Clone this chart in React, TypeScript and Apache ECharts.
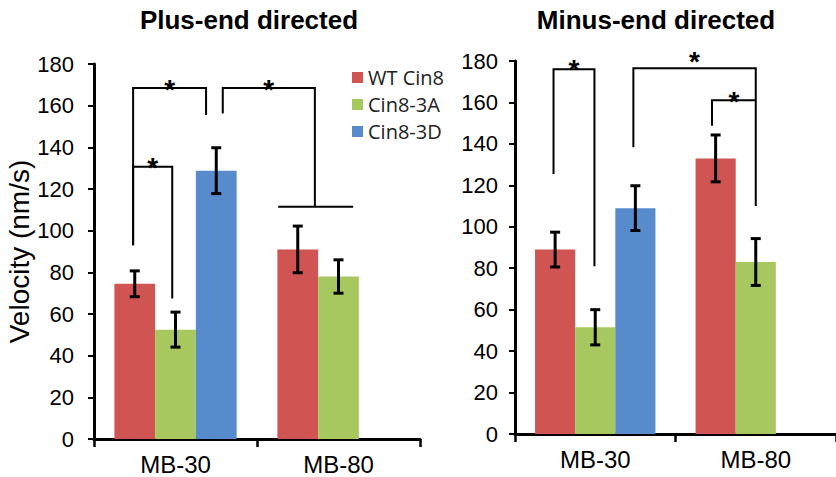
import React, { useEffect, useRef } from 'react';
import * as echarts from 'echarts';

// ---------- data ----------
const categories = ['MB-30', 'MB-80'];
const seriesNames = ['WT Cin8', 'Cin8-3A', 'Cin8-3D'];
const titles = ['Plus-end directed', 'Minus-end directed'];
const yAxisTitle = 'Velocity (nm/s)';

const plusWT = [74.5, 91];
const plusWTErr = [6.2, 11.2];
const plus3A = [52.5, 78];
const plus3AErr = [8.4, 8];
const plus3D = [128.8, null];
const plus3DErr = [11, null];

const minusWT = [89, 133];
const minusWTErr = [8.4, 11.3];
const minus3A = [51.5, 83];
const minus3AErr = [8.5, 11.3];
const minus3D = [109, null];
const minus3DErr = [10.8, null];

// significance brackets: [cat1, slot1, cat2, slot2, yTop, yLeftEnd, yRightEnd, starLiftPx]
const plusBrackets = [
  [0, -1.04, 0, 0.75, 168.5, 93, 155.5, 5],
  [0, 1.16, 1, -0.58, 168.5, 156.3, 111.5, 5],
  [0, -1.04, 0, -0.08, 130.7, 93, 67.5, 5],
];
// group lines: [cat, slotFrom, slotTo, y]
const plusGroupLines = [[1, -1.48, 0.36, 111.5]];
const minusBrackets = [
  [0, -1.04, 0, -0.02, 176, 125.5, 81, 6],
  [0, 0.95, 1, 0, 176.5, 138.4, 110, 12.5],
  [1, -1.09, 1, 0, 161, 148.8, null, 5],
];
const minusGroupLines: number[][] = [];

// ---------- styles ----------
const colors = ['#CF5452', '#A6C85E', '#578BCB'];
const FONT = 'Liberation Sans, Arial, sans-serif';
const CAT_GAP = 0.25;
const STAR_FS = 28;

function barWidthOf(api: any) {
  const band = api.size([1, 0])[0];
  return (band * (1 - CAT_GAP)) / 3;
}

function errorData(means: (number | null)[][], errs: (number | null)[][]) {
  const out: number[][] = [];
  means.forEach((arr, s) => {
    arr.forEach((m, c) => {
      const e = errs[s][c];
      if (m != null && e != null) out.push([c, m, e, s - 1]);
    });
  });
  return out;
}

function errRender(params: any, api: any) {
  const cat = api.value(0);
  const mean = api.value(1);
  const err = api.value(2);
  const slot = api.value(3);
  const c = api.coord([cat, mean]);
  const x = c[0] + slot * barWidthOf(api);
  const top = api.coord([cat, mean + err])[1];
  const bot = api.coord([cat, mean - err])[1];
  const cap = 5;
  const st = { stroke: '#000', lineWidth: 3 };
  return {
    type: 'group',
    children: [
      { type: 'line', shape: { x1: x, y1: top, x2: x, y2: bot }, style: st },
      { type: 'line', shape: { x1: x - cap, y1: top, x2: x + cap, y2: top }, style: st },
      { type: 'line', shape: { x1: x - cap, y1: bot, x2: x + cap, y2: bot }, style: st },
    ],
  };
}

function makeBracketRender(brackets: any[][], groupLines: any[][]) {
  return (params: any, api: any) => {
    const bw = barWidthOf(api);
    const st = { stroke: '#000', lineWidth: 2, fill: null };
    const idx = params.dataIndex;
    if (idx < brackets.length) {
      const [c1, s1, c2, s2, yTop, yL, yR, lift] = brackets[idx];
      const x1 = api.coord([c1, 0])[0] + s1 * bw;
      const x2 = api.coord([c2, 0])[0] + s2 * bw;
      const yT = api.coord([c1, yTop])[1];
      const pts: number[][] = [];
      if (yL != null) pts.push([x1, api.coord([c1, yL])[1]]);
      pts.push([x1, yT], [x2, yT]);
      if (yR != null) pts.push([x2, api.coord([c2, yR])[1]]);
      return {
        type: 'group',
        children: [
          { type: 'polyline', shape: { points: pts }, style: st },
          {
            type: 'text',
            x: (x1 + x2) / 2,
            y: yT - lift + 0.22 * STAR_FS,
            style: {
              text: '*',
              font: `bold ${STAR_FS}px ${FONT}`,
              fill: '#000',
              textAlign: 'center',
              textVerticalAlign: 'middle',
            },
          },
        ],
      };
    }
    const g = groupLines[idx - brackets.length];
    const [c, sf, stt, y] = g;
    const cx = api.coord([c, y]);
    return {
      type: 'line',
      shape: { x1: cx[0] + sf * bw, y1: cx[1], x2: cx[0] + stt * bw, y2: cx[1] },
      style: st,
    };
  };
}

function barSeries(grid: number, values: (number | null)[][]) {
  return values.map((v, i) => ({
    type: 'bar',
    name: seriesNames[i],
    xAxisIndex: grid,
    yAxisIndex: grid,
    data: v.map((x) => (x == null ? '-' : x)),
    barGap: '0%',
    barCategoryGap: `${CAT_GAP * 100}%`,
    itemStyle: { color: colors[i] },
    emphasis: { disabled: true },
  }));
}

const grids = [
  { left: 94, top: 64, width: 326, height: 375 },
  { left: 515, top: 61, width: 330, height: 373 },
];

export default function App() {
  const ref = useRef<HTMLDivElement>(null);
  useEffect(() => {
    document.body.style.margin = '0';
    const chart = echarts.init(ref.current!, undefined, { renderer: 'svg' });

    const xAxes = grids.map((_, i) => ({
      type: 'category',
      gridIndex: i,
      data: categories,
      axisLine: { lineStyle: { color: '#000', width: 3 } },
      axisTick: { show: true, length: 8, lineStyle: { color: '#000', width: 2.5 } },
      axisLabel: { color: '#000', fontSize: 24, fontFamily: FONT, margin: 13 },
    }));
    const yAxes = grids.map((_, i) => ({
      type: 'value',
      gridIndex: i,
      min: 0,
      max: 180,
      interval: 20,
      name: i === 0 ? yAxisTitle : '',
      nameLocation: 'middle',
      nameGap: 55,
      nameTextStyle: { color: '#000', fontSize: 28, fontFamily: FONT },
      axisLine: { show: true, lineStyle: { color: '#000', width: 3 } },
      axisTick: { show: true, length: 6, lineStyle: { color: '#000', width: 2 } },
      axisLabel: { color: '#000', fontSize: 22, fontFamily: FONT, margin: i === 0 ? 20 : 17 },
      splitLine: { show: false },
    }));

    const option: any = {
      animation: false,
      grid: grids,
      xAxis: xAxes,
      yAxis: yAxes,
      legend: {
        data: seriesNames,
        orient: 'vertical',
        left: 347,
        top: 61,
        icon: 'rect',
        itemWidth: 11,
        itemHeight: 11,
        itemGap: 4,
        textStyle: { fontSize: 20, fontFamily: 'Open Sans', color: '#222', lineHeight: 23 },
        selectedMode: false,
      },
      graphic: titles.map((t, i) => ({
        type: 'text',
        x: i === 0 ? 249 : 656,
        y: 20,
        style: {
          text: t,
          font: `bold 26px ${FONT}`,
          fill: '#000',
          textAlign: 'center',
          textVerticalAlign: 'middle',
        },
      })),
      series: [
        ...barSeries(0, [plusWT, plus3A, plus3D]),
        ...barSeries(1, [minusWT, minus3A, minus3D]),
        {
          type: 'custom',
          name: 'err-plus',
          xAxisIndex: 0,
          yAxisIndex: 0,
          z: 10,
          clip: false,
          encode: { x: 0, y: 1 },
          data: errorData([plusWT, plus3A, plus3D], [plusWTErr, plus3AErr, plus3DErr]),
          renderItem: errRender,
        },
        {
          type: 'custom',
          name: 'err-minus',
          xAxisIndex: 1,
          yAxisIndex: 1,
          z: 10,
          clip: false,
          encode: { x: 0, y: 1 },
          data: errorData([minusWT, minus3A, minus3D], [minusWTErr, minus3AErr, minus3DErr]),
          renderItem: errRender,
        },
        {
          type: 'custom',
          name: 'sig-plus',
          xAxisIndex: 0,
          yAxisIndex: 0,
          z: 10,
          clip: false,
          encode: { x: 0, y: 1 },
          data: [...plusBrackets, ...plusGroupLines].map(() => [0, 0]),
          renderItem: makeBracketRender(plusBrackets, plusGroupLines),
        },
        {
          type: 'custom',
          name: 'sig-minus',
          xAxisIndex: 1,
          yAxisIndex: 1,
          z: 10,
          clip: false,
          encode: { x: 0, y: 1 },
          data: [...minusBrackets, ...minusGroupLines].map(() => [0, 0]),
          renderItem: makeBracketRender(minusBrackets, minusGroupLines),
        },
      ],
    };
    chart.setOption(option);
    return () => chart.dispose();
  }, []);
  return <div ref={ref} style={{ width: 836, height: 477 }} />;
}
